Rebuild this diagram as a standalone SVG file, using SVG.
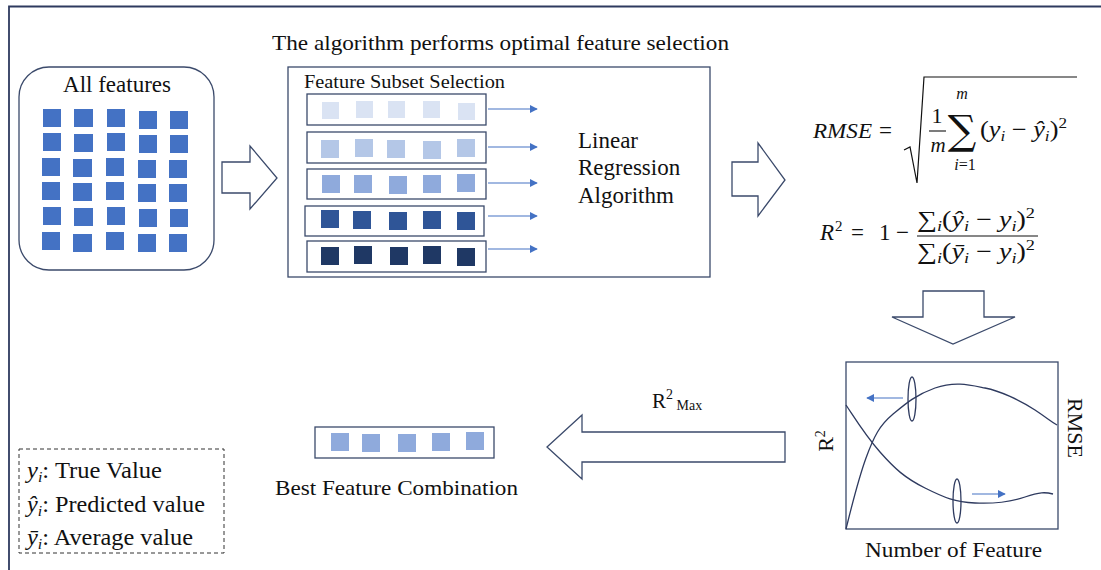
<svg xmlns="http://www.w3.org/2000/svg" width="1101" height="570" viewBox="0 0 1101 570" font-family="'Liberation Serif', 'Times New Roman', serif">
<style>
.t{font-family:"Liberation Serif","Times New Roman",serif;fill:#111;}
.m{font-family:"Liberation Serif","Times New Roman",serif;font-style:italic;fill:#111;}
.ol{fill:#fff;stroke:#3B4A6B;stroke-width:1.3;}
.box{fill:none;stroke:#3B4A6B;stroke-width:1.3;}
.c0{fill:#4472C4;}
.c1{fill:#DAE3F3;}
.c2{fill:#B4C7E7;}
.c3{fill:#8FAADC;}
.c4{fill:#2F5597;}
.c5{fill:#1F3864;}
.ba{stroke:#4472C4;stroke-width:1.2;fill:none;marker-end:url(#ah);}
.crv{fill:none;stroke:#2E3A5F;stroke-width:1.3;}
</style>
<defs>
<marker id="ah" viewBox="0 0 10 10" refX="9" refY="5" markerWidth="8" markerHeight="8" markerUnits="userSpaceOnUse" orient="auto">
<path d="M0,0 L10,5 L0,10 z" fill="#4472C4"/>
</marker>
</defs>
<rect width="1101" height="570" fill="#fff"/>
<path d="M9,570 V6.5 H1101" fill="none" stroke="#2E3A5F" stroke-width="1.8"/>

<g id="all-features">
<rect x="19" y="67" width="195" height="203" rx="30" class="box"/>
<text class="t" x="117" y="92" font-size="23" text-anchor="middle">All features</text>
<g class="c0">
<rect x="43" y="109" width="18" height="18"/><rect x="74" y="109" width="19" height="18"/><rect x="107" y="109" width="18" height="18"/><rect x="139" y="111" width="18" height="18"/><rect x="170" y="111" width="18" height="18"/>
<rect x="43" y="133" width="18" height="18"/><rect x="74" y="134" width="19" height="18"/><rect x="107" y="133" width="18" height="18"/><rect x="139" y="135" width="18" height="18"/><rect x="170" y="135" width="18" height="18"/>
<rect x="42" y="158" width="18" height="18"/><rect x="73" y="159" width="19" height="18"/><rect x="106" y="158" width="18" height="18"/><rect x="138" y="160" width="18" height="18"/><rect x="169" y="160" width="18" height="18"/>
<rect x="42" y="182" width="18" height="18"/><rect x="73" y="183" width="19" height="18"/><rect x="106" y="182" width="18" height="18"/><rect x="138" y="184" width="18" height="18"/><rect x="169" y="184" width="18" height="18"/>
<rect x="43" y="207" width="18" height="18"/><rect x="74" y="208" width="19" height="18"/><rect x="107" y="207" width="18" height="18"/><rect x="139" y="209" width="18" height="18"/><rect x="170" y="209" width="18" height="18"/>
<rect x="42" y="232" width="18" height="18"/><rect x="73" y="234" width="19" height="18"/><rect x="106" y="232" width="18" height="18"/><rect x="138" y="234" width="18" height="18"/><rect x="169" y="234" width="18" height="18"/>
</g>
</g>

<g id="arrow-1">
<polygon class="ol" points="222,162 250,162 250,146 277,178 250,209 250,193 222,193"/>
</g>

<g id="title">
<text class="t" x="272" y="50" font-size="22" textLength="457" lengthAdjust="spacingAndGlyphs">The algorithm performs optimal feature selection</text>
</g>

<g id="feature-subset-selection">
<rect x="288" y="67" width="422" height="210" class="box"/>
<text class="t" x="304" y="88" font-size="18" textLength="201" lengthAdjust="spacingAndGlyphs">Feature Subset Selection</text>
<rect x="307" y="94" width="179" height="31" class="box"/>
<g class="c1"><rect x="322" y="102" width="17" height="17"/><rect x="356" y="101" width="17" height="17"/><rect x="388" y="101" width="17" height="17"/><rect x="423" y="101" width="17" height="17"/><rect x="458" y="103" width="17" height="17"/></g>
<rect x="307" y="132" width="179" height="31" class="box"/>
<g class="c2"><rect x="321" y="140" width="18" height="18"/><rect x="355" y="139" width="18" height="18"/><rect x="387" y="140" width="18" height="18"/><rect x="423" y="141" width="18" height="18"/><rect x="457" y="139" width="18" height="18"/></g>
<rect x="307" y="169" width="179" height="30" class="box"/>
<g class="c3"><rect x="322" y="175" width="18" height="18"/><rect x="354" y="175" width="18" height="18"/><rect x="389" y="176" width="18" height="18"/><rect x="423" y="175" width="18" height="18"/><rect x="457" y="174" width="18" height="18"/></g>
<rect x="305" y="206" width="179" height="30" class="box"/>
<g class="c4"><rect x="321" y="210" width="18" height="18"/><rect x="353" y="211" width="18" height="18"/><rect x="389" y="212" width="18" height="18"/><rect x="423" y="211" width="18" height="18"/><rect x="457" y="212" width="18" height="18"/></g>
<rect x="307" y="241" width="179" height="31" class="box"/>
<g class="c5"><rect x="321" y="247" width="18" height="18"/><rect x="354" y="246" width="18" height="18"/><rect x="390" y="247" width="18" height="18"/><rect x="423" y="246" width="18" height="18"/><rect x="457" y="248" width="18" height="18"/></g>
</g>

<g id="linear-regression">
<text class="t" font-size="23"><tspan x="578" y="148">Linear</tspan><tspan x="578" y="175">Regression</tspan><tspan x="578" y="203">Algorithm</tspan></text>
</g>

<g id="connectors">
<line class="ba" x1="488" y1="109" x2="537" y2="109"/>
<line class="ba" x1="488" y1="147" x2="537" y2="147"/>
<line class="ba" x1="488" y1="183" x2="537" y2="183"/>
<line class="ba" x1="488" y1="216" x2="537" y2="216"/>
<line class="ba" x1="488" y1="249" x2="537" y2="249"/>
</g>

<g id="arrow-2">
<polygon class="ol" points="732,162 758,162 758,143 785,180 758,216 758,196 732,196"/>
</g>

<g id="rmse-formula">
<text class="m" x="813" y="138" font-size="22" textLength="59" lengthAdjust="spacingAndGlyphs">RMSE</text>
<text class="t" x="879" y="138" font-size="23">=</text>
<path d="M904,150 L910,147 L917,183 L924,77 H1077" fill="none" stroke="#111" stroke-width="1.2"/>
<text class="t" x="937" y="123" font-size="22" text-anchor="middle">1</text>
<line x1="929" y1="131" x2="946" y2="131" stroke="#111" stroke-width="1.1"/>
<text class="m" x="938" y="152" font-size="21" text-anchor="middle">m</text>
<text x="962" y="144" font-size="40" text-anchor="middle" font-family="DejaVu Serif, serif" fill="#111">∑</text>
<text class="m" x="962" y="99" font-size="16" text-anchor="middle">m</text>
<text class="m" x="965" y="170" font-size="16" text-anchor="middle">i<tspan font-style="normal">=1</tspan></text>
<text class="t" x="980" y="137" font-size="23" textLength="87" lengthAdjust="spacingAndGlyphs">(<tspan font-style="italic">y</tspan><tspan font-style="italic" font-size="15" dy="4">i</tspan><tspan dy="-4"> − </tspan><tspan font-style="italic">ŷ</tspan><tspan font-style="italic" font-size="15" dy="4">i</tspan><tspan dy="-4">)</tspan><tspan font-size="15" dy="-9">2</tspan></text>
</g>

<g id="r2-formula">
<text class="t" y="240" font-size="23"><tspan x="820" font-style="italic">R</tspan><tspan x="835" font-size="15" dy="-9">2</tspan><tspan x="851" dy="9">=</tspan><tspan x="879">1</tspan><tspan x="896">−</tspan></text>
<line x1="917" y1="236" x2="1038" y2="236" stroke="#111" stroke-width="1.1"/>
<text class="t" x="917" y="227" font-size="23" textLength="118" lengthAdjust="spacingAndGlyphs">∑<tspan font-style="italic" font-size="15" dy="4">i</tspan><tspan dy="-4">(</tspan><tspan font-style="italic">ŷ</tspan><tspan font-style="italic" font-size="15" dy="4">i</tspan><tspan dy="-4"> − </tspan><tspan font-style="italic">y</tspan><tspan font-style="italic" font-size="15" dy="4">i</tspan><tspan dy="-4">)</tspan><tspan font-size="15" dy="-9">2</tspan></text>
<text class="t" x="917" y="259" font-size="23" textLength="118" lengthAdjust="spacingAndGlyphs">∑<tspan font-style="italic" font-size="15" dy="4">i</tspan><tspan dy="-4">(</tspan><tspan font-style="italic">ȳ</tspan><tspan font-style="italic" font-size="15" dy="4">i</tspan><tspan dy="-4"> − </tspan><tspan font-style="italic">y</tspan><tspan font-style="italic" font-size="15" dy="4">i</tspan><tspan dy="-4">)</tspan><tspan font-size="15" dy="-9">2</tspan></text>
</g>

<g id="arrow-down">
<polygon class="ol" points="923,291 984,291 984,317 1015,317 953,344 892,317 923,317"/>
</g>

<g id="chart">
<rect x="846" y="362" width="212" height="167" class="box"/>
<path class="crv" d="M846,529 C852,505 858,480 866,458 S880,425 892,415 S915,395 935,388 S970,385 985,388 S1020,400 1035,410 S1050,421 1057,425"/>
<path class="crv" d="M846,405 C856,420 865,435 880,452 S905,478 925,488 S955,502 975,503 S1010,502 1025,497 S1045,492 1053,494"/>
<ellipse cx="912" cy="399" rx="4" ry="22" class="crv"/>
<ellipse cx="957" cy="501" rx="4" ry="22" class="crv"/>
<line class="ba" x1="903" y1="398" x2="867" y2="398"/>
<line class="ba" x1="972" y1="494" x2="1005" y2="494"/>
<text class="t" font-size="22" text-anchor="middle" transform="translate(833,441) rotate(-90)">R<tspan font-size="14" dy="-8">2</tspan></text>
<text class="t" font-size="22" text-anchor="middle" transform="translate(1068,428) rotate(90)">RMSE</text>
<text class="t" x="865" y="557" font-size="22" textLength="177" lengthAdjust="spacingAndGlyphs">Number of Feature</text>
</g>

<g id="arrow-left">
<polygon class="ol" points="785,432 582,432 582,415 547,447 582,479 582,462 785,462"/>
<text class="t" x="652" y="408" font-size="21">R<tspan font-size="14" dy="-9">2</tspan><tspan font-size="14" dy="11"> Max</tspan></text>
</g>

<g id="best-feature">
<rect x="315" y="427" width="179" height="31" class="box"/>
<g class="c3"><rect x="331" y="433" width="18" height="18"/><rect x="362" y="434" width="18" height="18"/><rect x="398" y="434" width="18" height="18"/><rect x="432" y="433" width="18" height="18"/><rect x="466" y="432" width="18" height="18"/></g>
<text class="t" x="275" y="495" font-size="22" textLength="243" lengthAdjust="spacingAndGlyphs">Best Feature Combination</text>
</g>

<g id="legend">
<rect x="19" y="449" width="205" height="104" fill="none" stroke="#333" stroke-width="1" stroke-dasharray="4,3"/>
<text class="t" x="27" y="478" font-size="23" textLength="135" lengthAdjust="spacingAndGlyphs"><tspan font-style="italic">y</tspan><tspan font-style="italic" font-size="15" dy="4">i</tspan><tspan dy="-4">: True Value</tspan></text>
<text class="t" x="27" y="512" font-size="23" textLength="178" lengthAdjust="spacingAndGlyphs"><tspan font-style="italic">ŷ</tspan><tspan font-style="italic" font-size="15" dy="4">i</tspan><tspan dy="-4">: Predicted value</tspan></text>
<text class="t" x="27" y="545" font-size="23" textLength="166" lengthAdjust="spacingAndGlyphs"><tspan font-style="italic">ȳ</tspan><tspan font-style="italic" font-size="15" dy="4">i</tspan><tspan dy="-4">: Average value</tspan></text>
</g>
</svg>
